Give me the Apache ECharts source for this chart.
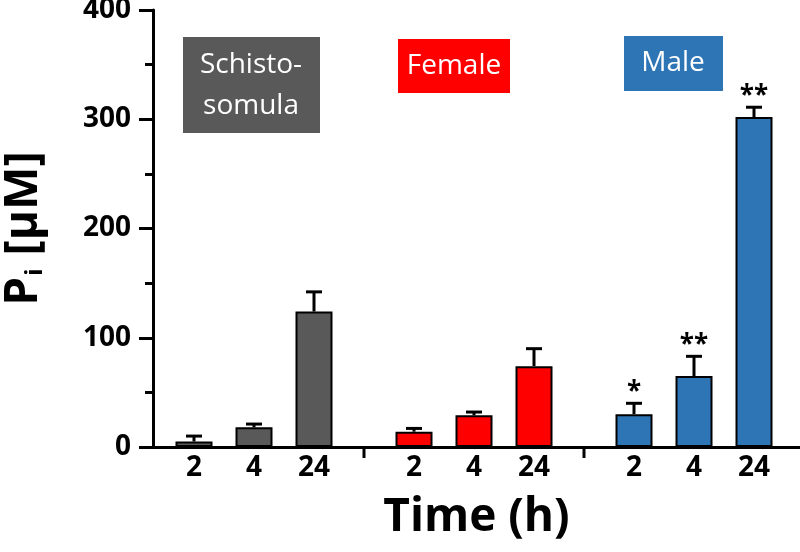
<!DOCTYPE html>
<html>
<head>
<meta charset="utf-8">
<script src="https://cdn.jsdelivr.net/npm/echarts@6/dist/echarts.min.js"></script>
<style>html,body{margin:0;padding:0;background:#fff}#c{width:800px;height:552px}</style>
</head>
<body>
<div id="c"></div>
<script>
// ---- data ----
const groups = ['Schisto-\nsomula', 'Female', 'Male'];
const groupColors = ['#595959', '#FF0000', '#2E75B6'];
const timeLabels = ['2', '4', '24'];
const schistoMean = [5, 18, 124];
const schistoErr = [5, 3, 18];
const femaleMean = [14, 29, 74];
const femaleErr = [3, 3, 16];
const maleMean = [30, 65, 302];
const maleErr = [10, 18, 9];
const schistoSig = ['', '', ''];
const femaleSig = ['', '', ''];
const maleSig = ['*', '**', '**'];
const yMin = 0, yMax = 400, yInterval = 100;

// ---- layout (x axis in arbitrary units) ----
const means = [schistoMean, femaleMean, maleMean];
const errs = [schistoErr, femaleErr, maleErr];
const sigs = [schistoSig, femaleSig, maleSig];
const firstPos = 41, groupStep = 220, barStep = 60, xMax = 647;

const barData = [], errData = [], labelData = [], sepData = [];
means.forEach((arr, g) => {
  arr.forEach((v, i) => {
    const x = firstPos + g * groupStep + i * barStep;
    barData.push({ value: [x, v], itemStyle: { color: groupColors[g] } });
    errData.push([x, v + errs[g][i], v, sigs[g][i]]);
    labelData.push([x, 0, timeLabels[i]]);
  });
  if (g > 0) sepData.push([firstPos + (g - 1) * groupStep + 2 * barStep + (groupStep - 2 * barStep) / 2, 0]);
});

const FONT = 'Open Sans';
const chart = echarts.init(document.getElementById('c'));
const option = {
  animation: false,
  grid: { left: 153, right: 0, top: 10, bottom: 105, containLabel: false, outerBoundsMode: 'none' },
  xAxis: {
    type: 'value', min: 0, max: xMax,
    axisLine: { lineStyle: { color: '#000', width: 3 } },
    axisTick: { show: false }, axisLabel: { show: false }, splitLine: { show: false },
    name: 'Time (h)', nameLocation: 'middle', nameGap: 48,
    nameTextStyle: { fontSize: 46, fontWeight: 'bold', fontFamily: FONT, color: '#000' }
  },
  yAxis: {
    type: 'value', min: yMin, max: yMax, interval: yInterval,
    axisLine: { show: true, lineStyle: { color: '#000', width: 3 } },
    axisTick: { show: true, length: 14, lineStyle: { color: '#000', width: 3 } },
    minorTick: { show: true, splitNumber: 2, length: 8, lineStyle: { color: '#000', width: 3 } },
    axisLabel: { fontSize: 28, fontWeight: 'bold', fontFamily: FONT, color: '#000', margin: 22 },
    splitLine: { show: false },
    name: '{a|P}{b|i}{a| [μM]}', nameLocation: 'middle', nameGap: 106,
    nameTextStyle: {
      color: '#000',
      rich: {
        a: { fontSize: 46, fontWeight: 'bold', fontFamily: FONT, color: '#000' },
        b: { fontSize: 24, fontWeight: 'bold', fontFamily: FONT, color: '#000', verticalAlign: 'bottom', padding: [22, 1, 0, 1] }
      }
    }
  },
  series: [
    {
      type: 'bar', data: barData, barWidth: 37,
      itemStyle: { borderColor: '#000', borderWidth: 2 }, z: 2
    },
    {
      type: 'custom', data: errData, z: 3, clip: false,
      encode: { x: 0, y: 1 },
      renderItem: function (params, api) {
        const x = api.value(0);
        const top = api.coord([x, api.value(1)]);
        const base = api.coord([x, api.value(2)]);
        const sig = errData[params.dataIndex][3];
        const children = [
          { type: 'line', shape: { x1: base[0], y1: base[1], x2: top[0], y2: top[1] }, style: { stroke: '#000', lineWidth: 3 } },
          { type: 'line', shape: { x1: top[0] - 8, y1: top[1], x2: top[0] + 8, y2: top[1] }, style: { stroke: '#000', lineWidth: 3 } }
        ];
        if (sig) children.push({ type: 'text', x: top[0], y: top[1] + 2, style: { text: sig, textAlign: 'center', textVerticalAlign: 'bottom', fontSize: 26, fontWeight: 'bold', fontFamily: FONT, fill: '#000' } });
        return { type: 'group', children: children };
      }
    },
    {
      type: 'custom', data: labelData, z: 3, clip: false,
      encode: { x: 0, y: 1 },
      renderItem: function (params, api) {
        const p = api.coord([api.value(0), 0]);
        return { type: 'text', x: p[0], y: p[1] + 7, style: { text: labelData[params.dataIndex][2], textAlign: 'center', textVerticalAlign: 'top', fontSize: 28, fontWeight: 'bold', fontFamily: FONT, fill: '#000' } };
      }
    },
    {
      type: 'custom', data: sepData, z: 3, clip: false,
      encode: { x: 0, y: 1 },
      renderItem: function (params, api) {
        const p = api.coord([api.value(0), 0]);
        return { type: 'line', shape: { x1: p[0], y1: p[1], x2: p[0], y2: p[1] + 11 }, style: { stroke: '#000', lineWidth: 3 } };
      }
    }
  ],
  graphic: [
    { type: 'rect', left: 183, top: 37, shape: { width: 137, height: 96 }, style: { fill: groupColors[0] } },
    { type: 'text', x: 251, y: 86, style: { text: groups[0], textAlign: 'center', textVerticalAlign: 'middle', fontSize: 28, lineHeight: 41, fontFamily: FONT, fill: '#fff' } },
    { type: 'rect', left: 398, top: 39, shape: { width: 112, height: 54 }, style: { fill: groupColors[1] } },
    { type: 'text', x: 454, y: 66, style: { text: groups[1], textAlign: 'center', textVerticalAlign: 'middle', fontSize: 28, fontFamily: FONT, fill: '#fff' } },
    { type: 'rect', left: 624, top: 36, shape: { width: 99, height: 55 }, style: { fill: groupColors[2] } },
    { type: 'text', x: 673, y: 63, style: { text: groups[2], textAlign: 'center', textVerticalAlign: 'middle', fontSize: 28, fontFamily: FONT, fill: '#fff' } }
  ]
};
chart.setOption(option);
</script>
</body>
</html>
